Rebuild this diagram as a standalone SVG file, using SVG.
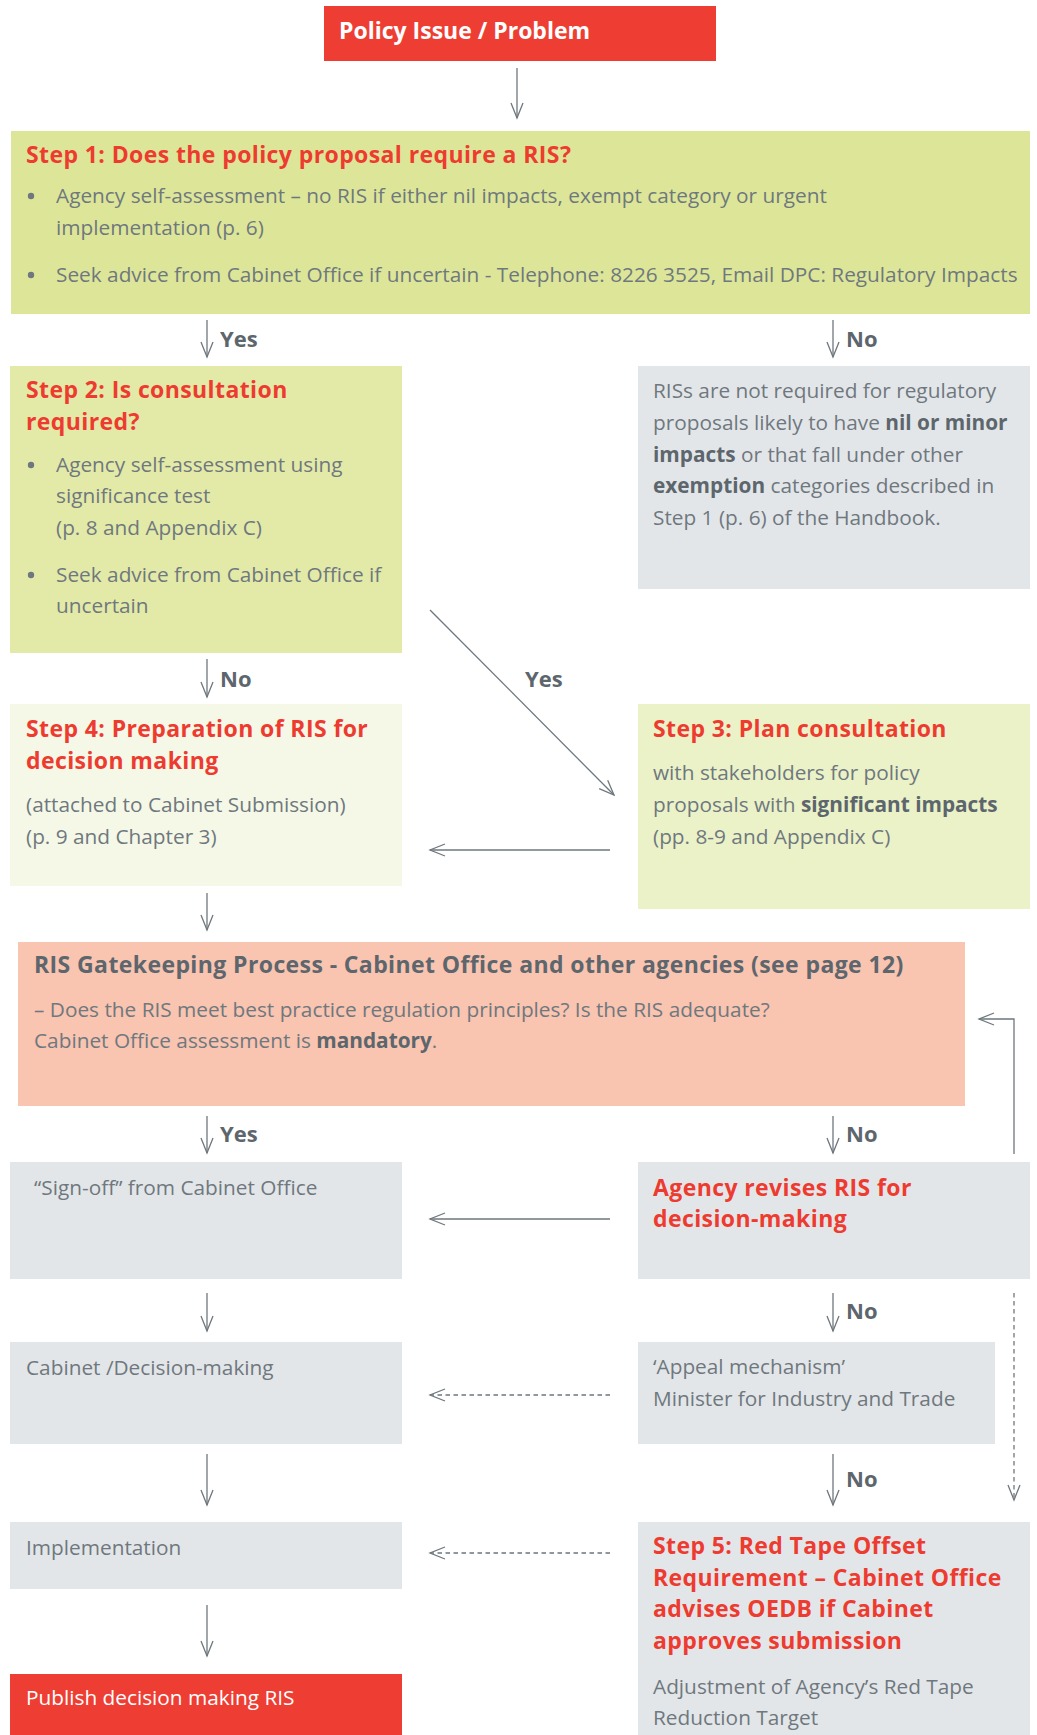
<svg xmlns="http://www.w3.org/2000/svg" width="1037" height="1735" viewBox="0 0 1037 1735">
<defs>
<style>
.t{font-family:"Open Sans","Liberation Sans",sans-serif;font-size:20.8px;fill:#6f787e;}
.b{font-weight:bold;fill:#5c666c;}
.h{font-family:"Open Sans","Liberation Sans",sans-serif;font-size:23px;letter-spacing:0.4px;font-weight:bold;fill:#ee3b30;}
.g{font-family:"Open Sans","Liberation Sans",sans-serif;font-size:23px;letter-spacing:0.4px;font-weight:bold;fill:#5c666c;}
.lbl{font-family:"Open Sans","Liberation Sans",sans-serif;font-size:22px;font-weight:bold;fill:#5c666c;}
.c{stroke:#6e777d;stroke-width:1.3;fill:none;}
.d{stroke:#6e777d;stroke-width:1.3;fill:none;stroke-dasharray:4.5 3.5;}
.dot{fill:#6f787e;}
</style>
<marker id="ah" markerUnits="userSpaceOnUse" viewBox="-17 -8 19 16" markerWidth="19" markerHeight="16" refX="0" refY="0" orient="auto">
<path d="M-15,-6 L0,0 L-15,6" fill="none" stroke="#6e777d" stroke-width="1.3"/>
</marker>
</defs>
<rect width="1037" height="1735" fill="#ffffff"/>

<g id="policy">
<rect x="324" y="6" width="392" height="55" fill="#ee3e33"/>
<text x="339" y="39" class="lbl" style="font-size:23px;fill:#ffffff">Policy Issue / Problem</text>
</g>

<g id="step1">
<rect x="11" y="131" width="1019" height="183" fill="#dde698"/>
<text x="26" y="163" class="h">Step 1: Does the policy proposal require a RIS?</text>
<circle cx="31" cy="196" r="3.2" class="dot"/>
<text x="56" y="203" class="t">Agency self-assessment – no RIS if either nil impacts, exempt category or urgent</text>
<text x="56" y="235" class="t">implementation (p. 6)</text>
<circle cx="31" cy="275" r="3.2" class="dot"/>
<text x="56" y="282" class="t">Seek advice from Cabinet Office if uncertain - Telephone: 8226 3525, Email DPC: Regulatory Impacts</text>
</g>

<g id="step2">
<rect x="10" y="366" width="392" height="287" fill="#e3eaa8"/>
<text x="26" y="398" class="h">Step 2: Is consultation</text>
<text x="26" y="430" class="h">required?</text>
<circle cx="31" cy="465" r="3.2" class="dot"/>
<text x="56" y="472" class="t">Agency self-assessment using</text>
<text x="56" y="503" class="t">significance test</text>
<text x="56" y="535" class="t">(p. 8 and Appendix C)</text>
<circle cx="31" cy="575" r="3.2" class="dot"/>
<text x="56" y="582" class="t">Seek advice from Cabinet Office if</text>
<text x="56" y="613" class="t">uncertain</text>
</g>

<g id="norisbox">
<rect x="638" y="366" width="392" height="223" fill="#e3e6e9"/>
<text x="653" y="398" class="t">RISs are not required for regulatory</text>
<text x="653" y="430" class="t">proposals likely to have <tspan class="b">nil or minor</tspan></text>
<text x="653" y="462" class="t"><tspan class="b">impacts</tspan> or that fall under other</text>
<text x="653" y="493" class="t"><tspan class="b">exemption</tspan> categories described in</text>
<text x="653" y="525" class="t">Step 1 (p. 6) of the Handbook.</text>
</g>

<g id="step4">
<rect x="10" y="704" width="392" height="182" fill="#f5f8e7"/>
<text x="26" y="737" class="h">Step 4: Preparation of RIS for</text>
<text x="26" y="769" class="h">decision making</text>
<text x="26" y="812" class="t">(attached to Cabinet Submission)</text>
<text x="26" y="844" class="t">(p. 9 and Chapter 3)</text>
</g>

<g id="step3">
<rect x="638" y="704" width="392" height="205" fill="#ebf2c8"/>
<text x="653" y="737" class="h">Step 3: Plan consultation</text>
<text x="653" y="780" class="t">with stakeholders for policy</text>
<text x="653" y="812" class="t">proposals with <tspan class="b">significant impacts</tspan></text>
<text x="653" y="844" class="t">(pp. 8-9 and Appendix C)</text>
</g>

<g id="gatekeeping">
<rect x="18" y="942" width="947" height="164" fill="#f9c4b0"/>
<text x="34" y="973" class="g">RIS Gatekeeping Process - Cabinet Office and other agencies (see page 12)</text>
<text x="34" y="1017" class="t">– Does the RIS meet best practice regulation principles? Is the RIS adequate?</text>
<text x="34" y="1048" class="t">Cabinet Office assessment is <tspan class="b">mandatory</tspan>.</text>
</g>

<g id="signoff">
<rect x="10" y="1162" width="392" height="117" fill="#e3e6e9"/>
<text x="34" y="1195" class="t">“Sign-off” from Cabinet Office</text>
</g>

<g id="revises">
<rect x="638" y="1162" width="392" height="117" fill="#e3e6e9"/>
<text x="653" y="1196" class="h">Agency revises RIS for</text>
<text x="653" y="1227" class="h">decision-making</text>
</g>

<g id="cabinet">
<rect x="10" y="1342" width="392" height="102" fill="#e3e6e9"/>
<text x="26" y="1375" class="t">Cabinet /Decision-making</text>
</g>

<g id="appeal">
<rect x="638" y="1342" width="357" height="102" fill="#e3e6e9"/>
<text x="653" y="1374" class="t">‘Appeal mechanism’</text>
<text x="653" y="1406" class="t">Minister for Industry and Trade</text>
</g>

<g id="implementation">
<rect x="10" y="1522" width="392" height="67" fill="#e3e6e9"/>
<text x="26" y="1555" class="t">Implementation</text>
</g>

<g id="step5">
<rect x="638" y="1522" width="392" height="213" fill="#e3e6e9"/>
<text x="653" y="1554" class="h">Step 5: Red Tape Offset</text>
<text x="653" y="1586" class="h">Requirement – Cabinet Office</text>
<text x="653" y="1617" class="h">advises OEDB if Cabinet</text>
<text x="653" y="1649" class="h">approves submission</text>
<text x="653" y="1694" class="t">Adjustment of Agency’s Red Tape</text>
<text x="653" y="1725" class="t">Reduction Target</text>
</g>

<g id="publish">
<rect x="10" y="1674" width="392" height="61" fill="#ee3e33"/>
<text x="26" y="1705" class="t" style="fill:#ffffff">Publish decision making RIS</text>
</g>

<g id="connectors">
<line x1="517" y1="68" x2="517" y2="118" class="c" marker-end="url(#ah)"/>
<line x1="207" y1="320" x2="207" y2="357" class="c" marker-end="url(#ah)"/>
<text x="220" y="347" class="lbl">Yes</text>
<line x1="833" y1="320" x2="833" y2="357" class="c" marker-end="url(#ah)"/>
<text x="846" y="347" class="lbl">No</text>
<line x1="207" y1="659" x2="207" y2="697" class="c" marker-end="url(#ah)"/>
<text x="220" y="687" class="lbl">No</text>
<line x1="430" y1="610" x2="614" y2="795" class="c" marker-end="url(#ah)"/>
<text x="525" y="687" class="lbl">Yes</text>
<line x1="610" y1="850" x2="430" y2="850" class="c" marker-end="url(#ah)"/>
<line x1="207" y1="893" x2="207" y2="930" class="c" marker-end="url(#ah)"/>
<line x1="207" y1="1116" x2="207" y2="1153" class="c" marker-end="url(#ah)"/>
<text x="220" y="1142" class="lbl">Yes</text>
<line x1="833" y1="1116" x2="833" y2="1153" class="c" marker-end="url(#ah)"/>
<text x="846" y="1142" class="lbl">No</text>
<polyline points="1014,1154 1014,1019 979,1019" class="c" marker-end="url(#ah)"/>
<line x1="610" y1="1219" x2="430" y2="1219" class="c" marker-end="url(#ah)"/>
<line x1="207" y1="1293" x2="207" y2="1331" class="c" marker-end="url(#ah)"/>
<line x1="833" y1="1293" x2="833" y2="1331" class="c" marker-end="url(#ah)"/>
<text x="846" y="1319" class="lbl">No</text>
<line x1="1014" y1="1293" x2="1014" y2="1500" class="d" marker-end="url(#ah)"/>
<line x1="610" y1="1395" x2="430" y2="1395" class="d" marker-end="url(#ah)"/>
<line x1="207" y1="1454" x2="207" y2="1505" class="c" marker-end="url(#ah)"/>
<line x1="833" y1="1454" x2="833" y2="1505" class="c" marker-end="url(#ah)"/>
<text x="846" y="1487" class="lbl">No</text>
<line x1="610" y1="1553" x2="430" y2="1553" class="d" marker-end="url(#ah)"/>
<line x1="207" y1="1605" x2="207" y2="1656" class="c" marker-end="url(#ah)"/>
</g>
</svg>
